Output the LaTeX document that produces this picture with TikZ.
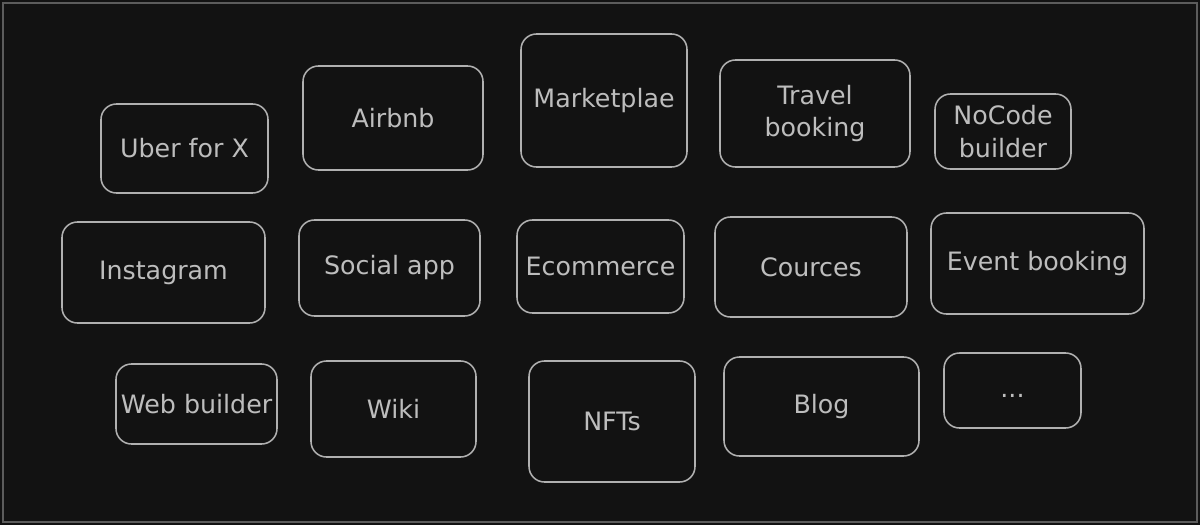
\documentclass[tikz,border=0pt]{standalone}
\usepackage{fontspec}
\setmainfont{DejaVu Sans}
\usepackage{tikz}
\definecolor{canvas}{HTML}{121212}
\definecolor{frameline}{HTML}{5C5C5C}
\definecolor{boxline}{HTML}{B0B0B0}
\definecolor{labelgray}{HTML}{BDBDBD}
\tikzset{app/.style={draw=boxline, line width=1.1pt, rounded corners=11pt, inner sep=0pt, text=labelgray, align=center, font=\fontsize{18}{23.4}\selectfont},
  boxsize/.style 2 args={minimum width=#1*0.025cm, minimum height=#2*0.025cm}}

\begin{document}
\begin{tikzpicture}[x=0.025cm,y=-0.025cm]
\useasboundingbox (0,0) rectangle (1200,525);
\fill[canvas] (0,0) rectangle (1200,525);
\draw[frameline, line width=0.8pt] (3,3) rectangle (1197,522);
\node[app, boxsize={167}{89}] (uber) at (184.5,148.5) {Uber for X};
\node[app, boxsize={180}{104}] (airbnb) at (393,118) {Airbnb};
\node[app, boxsize={166}{133}] (market) at (604,100.5) {Marketplae};
\node[app, boxsize={190}{107}] (travel) at (815,113.5) {Travel\\booking};
\node[app, boxsize={136}{75}] (nocode) at (1003,131.5) {NoCode\\builder};
\node[app, boxsize={203}{101}] (insta) at (163.5,272.5) {Instagram};
\node[app, boxsize={181}{96}] (social) at (389.5,268) {Social app};
\node[app, boxsize={167}{93}] (ecom) at (600.5,266.5) {Ecommerce};
\node[app, boxsize={192}{100}] (cources) at (811,267) {Cources};
\node[app, boxsize={213}{101}] (event) at (1037.5,263.5) {Event booking};
\node[app, boxsize={161}{80}] (webb) at (196.5,404) {Web builder};
\node[app, boxsize={165}{96}] (wiki) at (393.5,409) {Wiki};
\node[app, boxsize={166}{121}] (nfts) at (612,421.5) {NFTs};
\node[app, boxsize={195}{99}] (blog) at (821.5,406.5) {Blog};
\node[app, boxsize={137}{75}] (more) at (1012.5,390.5) {\smash{\raisebox{-5pt}{...}}};
\end{tikzpicture}
\end{document}
